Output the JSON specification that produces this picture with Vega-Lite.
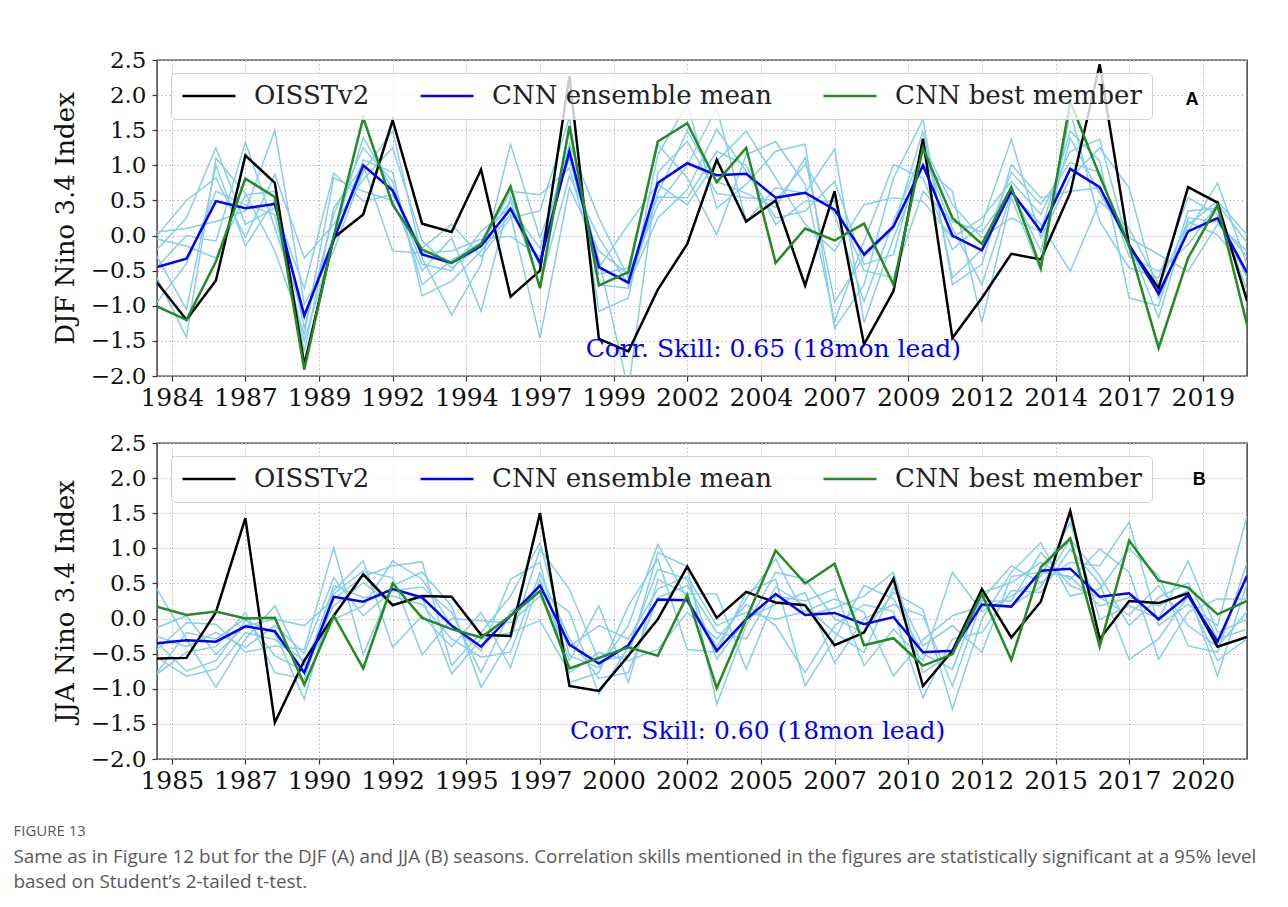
{
  "$schema": "https://vega.github.io/schema/vega-lite/v6.json",
  "background": "white",
  "padding": {"left": 13, "top": 48, "right": 20, "bottom": 10},
  "config": {
    "font": "DejaVu Serif",
    "view": {"stroke": "#333333", "strokeWidth": 1.4},
    "axis": {
      "domain": false, "grid": true, "gridColor": "#b8b8b8", "gridDash": [1.5, 2.5], "gridWidth": 1,
      "tickColor": "#333333", "tickSize": 5, "tickWidth": 1.2,
      "labelFont": "DejaVu Serif", "labelColor": "#111111", "labelOverlap": false,
      "titleFont": "DejaVu Serif", "titleFontWeight": "normal", "titleColor": "#111111"
    },
    "axisX": {"labelFontSize": 25, "labelPadding": 4, "labelFlush": false, "tickCount": 40},
    "axisY": {"labelFontSize": 23, "labelPadding": 6, "titleFontSize": 26, "titlePadding": 12, "tickCount": 20},
    "legend": {
      "orient": "none", "legendX": 14, "legendY": 13, "direction": "horizontal",
      "symbolType": "stroke", "symbolSize": 2809, "symbolStrokeWidth": 2.2,
      "labelFont": "DejaVu Serif", "labelFontSize": 26, "labelColor": "#222222",
      "labelOffset": 17, "labelLimit": 500, "columnPadding": 49, "padding": 10,
      "fillColor": "rgba(255,255,255,0.8)", "strokeColor": "#d0d0d0", "cornerRadius": 4,
      "clipHeight": 26
    }
  },
  "title": {
    "text": "FIGURE 13",
    "subtitle": ["Same as in Figure 12 but for the DJF (A) and JJA (B) seasons. Correlation skills mentioned in the figures are statistically significant at a 95% level", "based on Student’s 2-tailed t-test."],
    "orient": "bottom", "anchor": "start", "frame": "bounds",
    "font": "Open Sans", "fontSize": 15, "fontWeight": "normal", "color": "#5a5a5a",
    "subtitleFont": "Open Sans", "subtitleFontSize": 18.9, "subtitleColor": "#5a5a5a",
    "subtitlePadding": 9, "subtitleLineHeight": 25, "offset": 30, "dx": -38
  },
  "spacing": 20,
  "resolve": {"scale": {"color": "independent", "strokeWidth": "independent"}, "legend": {"color": "independent"}},
  "vconcat": [
    {
      "width": 1090, "height": 316,
      "data": {"values": [
        {"t": 1984, "obs": -0.67, "mean": -0.45, "best": -1.01, "m1": 0.05, "m2": 0.0, "m3": -0.05, "m4": -0.2, "m5": -0.3, "m6": -0.45, "m7": -0.6, "m8": -0.95},
        {"t": 1985, "obs": -1.2, "mean": -0.33, "best": -1.2, "m1": 0.1, "m2": 0.5, "m3": -0.15, "m4": 0.25, "m5": -1.05, "m6": 0.0, "m7": -1.45, "m8": -0.4},
        {"t": 1986, "obs": -0.64, "mean": 0.49, "best": -0.37, "m1": 0.2, "m2": 0.82, "m3": -0.32, "m4": 1.25, "m5": 1.0, "m6": -0.08, "m7": 1.1, "m8": 0.63},
        {"t": 1987, "obs": 1.14, "mean": 0.39, "best": 0.81, "m1": 0.35, "m2": -0.03, "m3": 0.58, "m4": 0.16, "m5": -0.15, "m6": 1.33, "m7": 0.6, "m8": 0.44},
        {"t": 1988, "obs": 0.75, "mean": 0.45, "best": 0.55, "m1": 1.5, "m2": 0.87, "m3": 0.63, "m4": 0.39, "m5": 0.5, "m6": 0.11, "m7": -0.22, "m8": 0.3},
        {"t": 1989, "obs": -1.84, "mean": -1.14, "best": -1.91, "m1": -0.98, "m2": -0.32, "m3": -1.32, "m4": -0.75, "m5": -1.65, "m6": -1.17, "m7": -1.4, "m8": -1.5},
        {"t": 1990, "obs": -0.03, "mean": -0.06, "best": -0.01, "m1": -0.22, "m2": 0.16, "m3": 0.3, "m4": 0.89, "m5": 0.39, "m6": 0.0, "m7": 0.82, "m8": -0.08},
        {"t": 1991, "obs": 0.3, "mean": 1.0, "best": 1.68, "m1": 0.92, "m2": 0.8, "m3": 1.25, "m4": 0.49, "m5": 1.0, "m6": 1.4, "m7": 0.63, "m8": 1.08},
        {"t": 1992, "obs": 1.64, "mean": 0.64, "best": 0.44, "m1": 1.49, "m2": 1.25, "m3": 0.77, "m4": 0.58, "m5": -0.22, "m6": 0.65, "m7": 0.5, "m8": 0.9},
        {"t": 1993, "obs": 0.17, "mean": -0.27, "best": -0.2, "m1": -0.32, "m2": -0.08, "m3": -0.7, "m4": -0.18, "m5": -0.25, "m6": -0.41, "m7": -0.5, "m8": -0.86},
        {"t": 1994, "obs": 0.05, "mean": -0.39, "best": -0.39, "m1": -1.13, "m2": -0.46, "m3": -0.35, "m4": 0.16, "m5": -0.22, "m6": -0.5, "m7": -0.03, "m8": -0.65},
        {"t": 1995, "obs": 0.94, "mean": -0.15, "best": -0.12, "m1": -0.41, "m2": -0.15, "m3": -0.1, "m4": -0.3, "m5": -0.05, "m6": 0.06, "m7": -1.08, "m8": -0.22},
        {"t": 1996, "obs": -0.87, "mean": 0.38, "best": 0.7, "m1": 1.3, "m2": 0.63, "m3": 0.49, "m4": 0.25, "m5": -0.01, "m6": 0.4, "m7": 0.55, "m8": 0.3},
        {"t": 1997, "obs": -0.5, "mean": -0.39, "best": -0.75, "m1": -0.03, "m2": 0.58, "m3": -0.7, "m4": 0.35, "m5": -0.3, "m6": -0.18, "m7": -0.45, "m8": -1.46},
        {"t": 1998, "obs": 2.27, "mean": 1.2, "best": 1.56, "m1": 1.1, "m2": 0.96, "m3": 0.85, "m4": 1.68, "m5": 1.2, "m6": 1.3, "m7": 1.49, "m8": 0.68},
        {"t": 1999, "obs": -1.47, "mean": -0.45, "best": -0.71, "m1": -0.46, "m2": -0.55, "m3": -0.03, "m4": -1.08, "m5": -0.35, "m6": 0.25, "m7": -0.7, "m8": -0.22},
        {"t": 2000, "obs": -1.65, "mean": -0.67, "best": -0.52, "m1": 0.16, "m2": -0.46, "m3": -0.7, "m4": -0.89, "m5": -2.2, "m6": -0.6, "m7": -0.75, "m8": -0.55},
        {"t": 2001, "obs": -0.77, "mean": 0.75, "best": 1.34, "m1": 0.73, "m2": 1.3, "m3": 0.25, "m4": 1.15, "m5": 0.9, "m6": 0.44, "m7": 0.6, "m8": 0.55},
        {"t": 2002, "obs": -0.12, "mean": 1.03, "best": 1.6, "m1": 0.44, "m2": 0.82, "m3": 0.65, "m4": 1.87, "m5": 1.34, "m6": 1.0, "m7": 1.49, "m8": 0.54},
        {"t": 2003, "obs": 1.08, "mean": 0.86, "best": 0.76, "m1": 1.06, "m2": 0.01, "m3": 1.51, "m4": 0.39, "m5": 0.6, "m6": 1.82, "m7": 0.77, "m8": 1.2},
        {"t": 2004, "obs": 0.2, "mean": 0.88, "best": 1.25, "m1": 1.49, "m2": 1.15, "m3": 0.92, "m4": 0.73, "m5": 0.54, "m6": 0.2, "m7": 0.6, "m8": 1.0},
        {"t": 2005, "obs": 0.5, "mean": 0.54, "best": -0.39, "m1": 0.82, "m2": 1.34, "m3": 0.25, "m4": 1.2, "m5": 0.5, "m6": 0.68, "m7": 0.4, "m8": 0.16},
        {"t": 2006, "obs": -0.71, "mean": 0.61, "best": 0.1, "m1": 0.16, "m2": 0.73, "m3": 0.35, "m4": 1.3, "m5": 1.01, "m6": 0.6, "m7": 1.11, "m8": 0.49},
        {"t": 2007, "obs": 0.63, "mean": 0.37, "best": -0.07, "m1": -0.22, "m2": -1.22, "m3": 0.77, "m4": -1.32, "m5": 0.3, "m6": 1.23, "m7": -0.94, "m8": 0.49},
        {"t": 2008, "obs": -1.55, "mean": -0.27, "best": 0.17, "m1": 0.44, "m2": -0.08, "m3": -0.41, "m4": -0.7, "m5": -0.94, "m6": -1.24, "m7": -0.3, "m8": -0.5},
        {"t": 2009, "obs": -0.79, "mean": 0.13, "best": -0.7, "m1": 0.54, "m2": 1.01, "m3": -0.27, "m4": 0.82, "m5": 0.2, "m6": -0.03, "m7": 0.1, "m8": -0.6},
        {"t": 2010, "obs": 1.38, "mean": 1.0, "best": 1.25, "m1": 0.49, "m2": 0.82, "m3": 1.3, "m4": 1.65, "m5": 1.2, "m6": 1.0, "m7": 1.49, "m8": 0.63},
        {"t": 2011, "obs": -1.46, "mean": 0.0, "best": 0.25, "m1": -0.03, "m2": -0.2, "m3": 0.44, "m4": -0.7, "m5": 0.1, "m6": 0.63, "m7": -0.6, "m8": 0.2},
        {"t": 2012, "obs": -0.89, "mean": -0.21, "best": -0.12, "m1": 0.25, "m2": 0.16, "m3": -0.03, "m4": -0.41, "m5": -0.7, "m6": -1.24, "m7": -0.2, "m8": 0.05},
        {"t": 2013, "obs": -0.26, "mean": 0.63, "best": 0.69, "m1": 0.77, "m2": 1.37, "m3": 0.25, "m4": 1.01, "m5": 0.6, "m6": 0.54, "m7": 0.9, "m8": 0.65},
        {"t": 2014, "obs": -0.34, "mean": 0.06, "best": -0.46, "m1": 0.3, "m2": -0.03, "m3": 0.05, "m4": 0.54, "m5": 0.16, "m6": -0.51, "m7": 0.44, "m8": -0.22},
        {"t": 2015, "obs": 0.61, "mean": 0.95, "best": 1.91, "m1": 1.2, "m2": 0.82, "m3": 1.49, "m4": 0.63, "m5": -0.51, "m6": 1.77, "m7": 1.04, "m8": 1.39},
        {"t": 2016, "obs": 2.44, "mean": 0.69, "best": 0.85, "m1": 1.37, "m2": 1.25, "m3": 1.06, "m4": 0.68, "m5": 0.49, "m6": 0.2, "m7": 0.9, "m8": 0.6},
        {"t": 2017, "obs": -0.15, "mean": -0.13, "best": -0.15, "m1": -0.18, "m2": 0.68, "m3": -0.89, "m4": -0.03, "m5": 0.1, "m6": -0.46, "m7": -0.3, "m8": -0.1},
        {"t": 2018, "obs": -0.75, "mean": -0.83, "best": -1.6, "m1": -0.8, "m2": -0.89, "m3": -1.0, "m4": -0.27, "m5": -0.7, "m6": -0.6, "m7": -0.51, "m8": -1.17},
        {"t": 2019, "obs": 0.69, "mean": 0.06, "best": -0.32, "m1": 0.06, "m2": 0.15, "m3": 0.35, "m4": -0.51, "m5": 0.2, "m6": 0.54, "m7": -0.13, "m8": 0.25},
        {"t": 2020, "obs": 0.47, "mean": 0.25, "best": 0.43, "m1": 0.75, "m2": 0.49, "m3": 0.39, "m4": 0.16, "m5": 0.01, "m6": 0.3, "m7": 0.45, "m8": 0.2},
        {"t": 2021, "obs": -0.93, "mean": -0.53, "best": -1.27, "m1": -0.41, "m2": 0.01, "m3": -0.79, "m4": -0.22, "m5": -0.5, "m6": -0.6, "m7": -0.1, "m8": -0.3}
      ]},
      "layer": [
        {
          "transform": [{"fold": ["m1", "m2", "m3", "m4", "m5", "m6", "m7", "m8"], "as": ["member", "value"]}],
          "mark": {"type": "line", "color": "#87ceeb", "strokeWidth": 1.5, "clip": true},
          "encoding": {
            "x": {"field": "t", "type": "quantitative", "scale": {"domain": [1984, 2021], "nice": false, "zero": false},
                  "axis": {"title": null, "labelOverlap": false, "tickCount": 40, "values": [1984.5, 1987, 1989.5, 1992, 1994.5, 1997, 1999.5, 2002, 2004.5, 2007, 2009.5, 2012, 2014.5, 2017, 2019.5], "labelExpr": "toString(floor(datum.value))"}},
            "y": {"field": "value", "type": "quantitative", "scale": {"domain": [-2, 2.5], "nice": false, "zero": false},
                  "axis": {"title": "DJF Nino 3.4 Index", "labelOverlap": false, "tickCount": 20, "values": [-2, -1.5, -1, -0.5, 0, 0.5, 1, 1.5, 2, 2.5], "format": ".1f"}},
            "detail": {"field": "member"}
          }
        },
        {
          "transform": [{"fold": ["obs", "mean", "best"], "as": ["series", "value"]}],
          "mark": {"type": "line", "clip": true},
          "encoding": {
            "x": {"field": "t", "type": "quantitative"},
            "y": {"field": "value", "type": "quantitative"},
            "color": {"field": "series", "type": "nominal", "sort": null,
                      "scale": {"domain": ["obs", "mean", "best"], "range": ["#000000", "#0000ff", "#228b22"]},
                      "legend": {"title": null, "labelExpr": "datum.label == 'obs' ? 'OISSTv2' : datum.label == 'mean' ? 'CNN ensemble mean' : 'CNN best member'"}},
            "strokeWidth": {"field": "series", "type": "nominal",
                      "scale": {"domain": ["obs", "mean", "best"], "range": [2.5, 2.5, 1.6]}, "legend": null}
          }
        },
        {
          "data": {"values": [{}]},
          "mark": {"type": "text", "text": "Corr. Skill: 0.65 (18mon lead)", "color": "#0000ff", "fontSize": 25, "font": "DejaVu Serif", "align": "center", "baseline": "alphabetic"},
          "encoding": {"x": {"datum": 2004.92}, "y": {"datum": -1.73}}
        },
        {
          "data": {"values": [{}]},
          "mark": {"type": "text", "text": "A", "fontSize": 18, "font": "Liberation Sans", "fontWeight": "bold", "color": "#000000", "align": "center", "baseline": "alphabetic"},
          "encoding": {"x": {"datum": 2019.13}, "y": {"datum": 1.856}}
        }
      ]
    },
    {
      "width": 1090, "height": 316,
      "data": {"values": [
        {"t": 1984.5, "obs": -0.57, "mean": -0.35, "best": 0.17, "m1": 0.42, "m2": -0.13, "m3": -0.34, "m4": -0.44, "m5": -0.77, "m6": -0.79, "m7": -0.25, "m8": -0.55},
        {"t": 1985.5, "obs": -0.56, "mean": -0.31, "best": 0.05, "m1": -0.29, "m2": 0.04, "m3": -0.75, "m4": -0.06, "m5": -0.2, "m6": -0.48, "m7": -0.4, "m8": -0.82},
        {"t": 1986.5, "obs": 0.09, "mean": -0.33, "best": 0.1, "m1": -0.98, "m2": -0.51, "m3": -0.6, "m4": -0.08, "m5": -0.29, "m6": -0.4, "m7": -0.2, "m8": -0.72},
        {"t": 1987.5, "obs": 1.43, "mean": -0.11, "best": 0.0, "m1": -0.29, "m2": -0.1, "m3": -0.03, "m4": -0.48, "m5": 0.0, "m6": 0.09, "m7": -0.41, "m8": -0.2},
        {"t": 1988.5, "obs": -1.48, "mean": -0.18, "best": 0.01, "m1": 0.18, "m2": -0.01, "m3": -0.2, "m4": -0.39, "m5": -0.53, "m6": -0.77, "m7": -0.1, "m8": -0.3},
        {"t": 1989.5, "obs": -0.6, "mean": -0.77, "best": -0.94, "m1": -0.67, "m2": -0.1, "m3": -1.15, "m4": -0.44, "m5": -0.75, "m6": -0.86, "m7": -0.5, "m8": -0.6},
        {"t": 1990.5, "obs": 0.04, "mean": 0.31, "best": 0.04, "m1": -0.01, "m2": 0.28, "m3": 0.35, "m4": 1.01, "m5": 0.47, "m6": 0.4, "m7": 0.58, "m8": 0.18},
        {"t": 1991.5, "obs": 0.63, "mean": 0.24, "best": -0.71, "m1": 0.18, "m2": 0.6, "m3": 0.68, "m4": -0.51, "m5": 0.3, "m6": 0.82, "m7": 0.04, "m8": 0.51},
        {"t": 1992.5, "obs": 0.19, "mean": 0.42, "best": 0.5, "m1": 0.82, "m2": 0.75, "m3": 0.58, "m4": 0.47, "m5": 0.32, "m6": -0.41, "m7": 0.4, "m8": 0.2},
        {"t": 1993.5, "obs": 0.32, "mean": 0.3, "best": 0.01, "m1": 0.56, "m2": 0.81, "m3": -0.52, "m4": 0.66, "m5": 0.2, "m6": 0.04, "m7": 0.45, "m8": 0.3},
        {"t": 1994.5, "obs": 0.31, "mean": -0.1, "best": -0.15, "m1": -0.1, "m2": -0.67, "m3": 0.0, "m4": 0.18, "m5": -0.29, "m6": -0.4, "m7": 0.09, "m8": -0.79},
        {"t": 1995.5, "obs": -0.23, "mean": -0.4, "best": -0.27, "m1": -0.46, "m2": -0.2, "m3": -0.03, "m4": -0.98, "m5": -0.55, "m6": 0.09, "m7": -0.77, "m8": -0.29},
        {"t": 1996.5, "obs": -0.25, "mean": 0.04, "best": 0.04, "m1": 0.56, "m2": 0.32, "m3": -0.06, "m4": -0.29, "m5": -0.48, "m6": -0.7, "m7": 0.1, "m8": -0.2},
        {"t": 1997.5, "obs": 1.5, "mean": 0.47, "best": 0.39, "m1": 0.8, "m2": 1.08, "m3": 0.32, "m4": 0.99, "m5": 0.65, "m6": 0.56, "m7": 0.4, "m8": -0.03},
        {"t": 1998.5, "obs": -0.96, "mean": -0.37, "best": -0.71, "m1": -0.91, "m2": -0.53, "m3": -0.4, "m4": 0.42, "m5": -0.29, "m6": -0.6, "m7": 0.09, "m8": -0.77},
        {"t": 1999.5, "obs": -1.03, "mean": -0.64, "best": -0.56, "m1": -0.77, "m2": -0.7, "m3": -0.1, "m4": -0.6, "m5": -0.85, "m6": 0.18, "m7": -1.08, "m8": -0.48},
        {"t": 2000.5, "obs": -0.53, "mean": -0.38, "best": -0.41, "m1": 0.18, "m2": -0.1, "m3": -0.29, "m4": -0.53, "m5": -0.77, "m6": -0.91, "m7": -0.4, "m8": -0.6},
        {"t": 2001.5, "obs": -0.01, "mean": 0.27, "best": -0.53, "m1": 0.85, "m2": 1.06, "m3": 0.42, "m4": 0.94, "m5": 0.3, "m6": 0.56, "m7": 0.7, "m8": -0.44},
        {"t": 2002.5, "obs": 0.74, "mean": 0.26, "best": 0.33, "m1": -0.44, "m2": 0.28, "m3": 0.6, "m4": 0.74, "m5": 0.47, "m6": 0.35, "m7": 0.56, "m8": 0.09},
        {"t": 2003.5, "obs": 0.01, "mean": -0.46, "best": -0.99, "m1": -0.48, "m2": -0.4, "m3": -0.1, "m4": -1.22, "m5": -0.2, "m6": 0.35, "m7": -0.58, "m8": -0.29},
        {"t": 2004.5, "obs": 0.38, "mean": -0.01, "best": -0.01, "m1": 0.37, "m2": 0.28, "m3": 0.09, "m4": -0.1, "m5": -0.29, "m6": -0.72, "m7": 0.0, "m8": 0.2},
        {"t": 2005.5, "obs": 0.23, "mean": 0.35, "best": 0.97, "m1": 0.56, "m2": 0.85, "m3": -0.01, "m4": 0.66, "m5": 0.45, "m6": 0.32, "m7": 0.2, "m8": -0.1},
        {"t": 2006.5, "obs": 0.19, "mean": 0.05, "best": 0.5, "m1": -0.96, "m2": 0.04, "m3": 0.1, "m4": 0.56, "m5": 0.18, "m6": 0.25, "m7": 0.37, "m8": -0.77},
        {"t": 2007.5, "obs": -0.38, "mean": 0.08, "best": 0.78, "m1": -0.29, "m2": 0.15, "m3": 0.28, "m4": 0.0, "m5": -0.2, "m6": 0.42, "m7": -0.63, "m8": -0.1},
        {"t": 2008.5, "obs": -0.2, "mean": -0.08, "best": -0.38, "m1": 0.47, "m2": 0.32, "m3": 0.09, "m4": -0.2, "m5": -0.48, "m6": -0.67, "m7": 0.0, "m8": 0.2},
        {"t": 2009.5, "obs": 0.57, "mean": 0.02, "best": -0.28, "m1": 0.28, "m2": 0.66, "m3": -0.82, "m4": 0.37, "m5": 0.45, "m6": -0.15, "m7": 0.2, "m8": 0.1},
        {"t": 2010.5, "obs": -0.96, "mean": -0.48, "best": -0.67, "m1": -0.5, "m2": -0.77, "m3": -0.3, "m4": 0.13, "m5": -0.39, "m6": -0.6, "m7": 0.04, "m8": -1.13},
        {"t": 2011.5, "obs": -0.46, "mean": -0.46, "best": -0.51, "m1": -0.72, "m2": -0.5, "m3": 0.04, "m4": -1.29, "m5": -0.1, "m6": 0.66, "m7": -0.96, "m8": -0.29},
        {"t": 2012.5, "obs": 0.42, "mean": 0.2, "best": 0.35, "m1": 0.37, "m2": 0.28, "m3": 0.18, "m4": -0.01, "m5": -0.48, "m6": 0.1, "m7": 0.25, "m8": -0.2},
        {"t": 2013.5, "obs": -0.27, "mean": 0.17, "best": -0.59, "m1": 0.51, "m2": 0.75, "m3": 0.18, "m4": 0.66, "m5": 0.6, "m6": 0.32, "m7": 0.25, "m8": 0.4},
        {"t": 2014.5, "obs": 0.24, "mean": 0.68, "best": 0.73, "m1": 0.8, "m2": 0.51, "m3": 0.45, "m4": 1.08, "m5": 0.66, "m6": 0.6, "m7": 0.94, "m8": 0.37},
        {"t": 2015.5, "obs": 1.53, "mean": 0.71, "best": 1.14, "m1": 0.56, "m2": 0.8, "m3": 1.13, "m4": 0.32, "m5": 0.6, "m6": 1.37, "m7": 0.47, "m8": 0.99},
        {"t": 2016.5, "obs": -0.29, "mean": 0.31, "best": -0.4, "m1": 0.99, "m2": 0.75, "m3": 0.61, "m4": 0.42, "m5": 0.18, "m6": -0.01, "m7": 0.3, "m8": 0.5},
        {"t": 2017.5, "obs": 0.25, "mean": 0.36, "best": 1.11, "m1": 0.66, "m2": 1.37, "m3": -0.1, "m4": 0.99, "m5": 0.3, "m6": 0.18, "m7": 0.05, "m8": -0.58},
        {"t": 2018.5, "obs": 0.22, "mean": -0.01, "best": 0.54, "m1": -0.58, "m2": -0.1, "m3": 0.3, "m4": 0.61, "m5": 0.18, "m6": 0.0, "m7": 0.47, "m8": -0.29},
        {"t": 2019.5, "obs": 0.36, "mean": 0.33, "best": 0.44, "m1": 0.09, "m2": 0.2, "m3": 0.51, "m4": -0.39, "m5": 0.4, "m6": 0.82, "m7": -0.1, "m8": 0.32},
        {"t": 2020.5, "obs": -0.4, "mean": -0.33, "best": 0.06, "m1": 0.28, "m2": -0.1, "m3": -0.29, "m4": -0.48, "m5": -0.82, "m6": -0.2, "m7": -0.4, "m8": -0.6},
        {"t": 2021.5, "obs": -0.26, "mean": 0.61, "best": 0.25, "m1": 0.28, "m2": 1.46, "m3": -0.15, "m4": 0.8, "m5": 0.5, "m6": -0.01, "m7": 0.1, "m8": -0.29}
      ]},
      "layer": [
        {
          "transform": [{"fold": ["m1", "m2", "m3", "m4", "m5", "m6", "m7", "m8"], "as": ["member", "value"]}],
          "mark": {"type": "line", "color": "#87ceeb", "strokeWidth": 1.5, "clip": true},
          "encoding": {
            "x": {"field": "t", "type": "quantitative", "scale": {"domain": [1984.5, 2021.5], "nice": false, "zero": false},
                  "axis": {"title": null, "labelOverlap": false, "tickCount": 40, "values": [1985, 1987.5, 1990, 1992.5, 1995, 1997.5, 2000, 2002.5, 2005, 2007.5, 2010, 2012.5, 2015, 2017.5, 2020], "labelExpr": "toString(floor(datum.value))"}},
            "y": {"field": "value", "type": "quantitative", "scale": {"domain": [-2, 2.5], "nice": false, "zero": false},
                  "axis": {"title": "JJA Nino 3.4 Index", "labelOverlap": false, "tickCount": 20, "values": [-2, -1.5, -1, -0.5, 0, 0.5, 1, 1.5, 2, 2.5], "format": ".1f"}},
            "detail": {"field": "member"}
          }
        },
        {
          "transform": [{"fold": ["obs", "mean", "best"], "as": ["series", "value"]}],
          "mark": {"type": "line", "clip": true},
          "encoding": {
            "x": {"field": "t", "type": "quantitative"},
            "y": {"field": "value", "type": "quantitative"},
            "color": {"field": "series", "type": "nominal", "sort": null,
                      "scale": {"domain": ["obs", "mean", "best"], "range": ["#000000", "#0000ff", "#228b22"]},
                      "legend": {"title": null, "labelExpr": "datum.label == 'obs' ? 'OISSTv2' : datum.label == 'mean' ? 'CNN ensemble mean' : 'CNN best member'"}},
            "strokeWidth": {"field": "series", "type": "nominal",
                      "scale": {"domain": ["obs", "mean", "best"], "range": [2.5, 2.5, 1.6]}, "legend": null}
          }
        },
        {
          "data": {"values": [{}]},
          "mark": {"type": "text", "text": "Corr. Skill: 0.60 (18mon lead)", "color": "#0000ff", "fontSize": 25, "font": "DejaVu Serif", "align": "center", "baseline": "alphabetic"},
          "encoding": {"x": {"datum": 2004.89}, "y": {"datum": -1.72}}
        },
        {
          "data": {"values": [{}]},
          "mark": {"type": "text", "text": "B", "fontSize": 18, "font": "Liberation Sans", "fontWeight": "bold", "color": "#000000", "align": "center", "baseline": "alphabetic"},
          "encoding": {"x": {"datum": 2019.88}, "y": {"datum": 1.899}}
        }
      ]
    }
  ]
}
